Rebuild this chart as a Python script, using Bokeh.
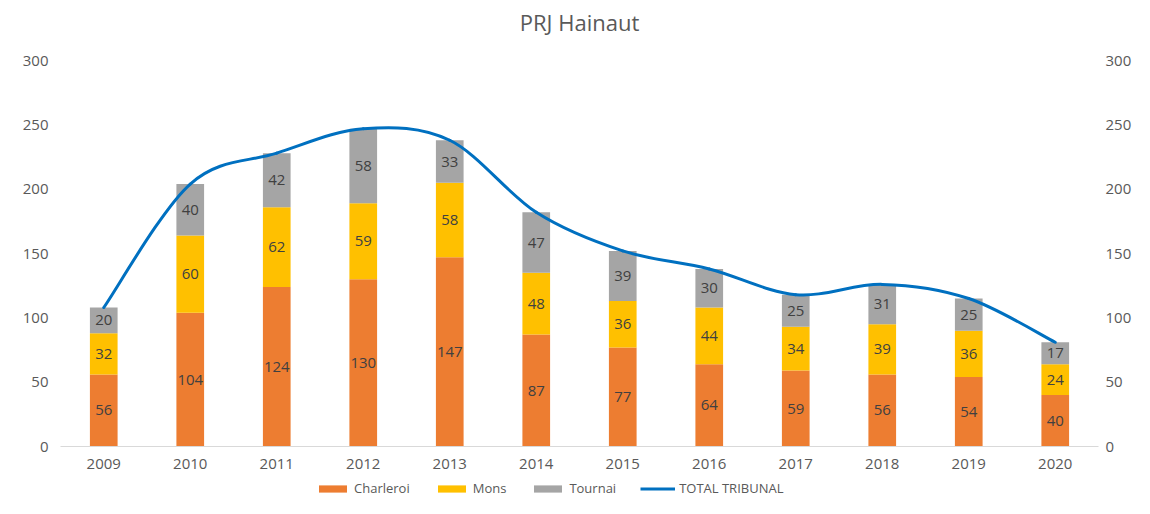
import numpy as np
from bokeh.plotting import figure
from bokeh.layouts import column
from bokeh.models import (ColumnDataSource, Range1d, LinearAxis, FixedTicker,
                          Legend, LegendItem)
from bokeh.core.properties import value
from bokeh.embed import file_html
from bokeh.resources import INLINE

years = ["2009", "2010", "2011", "2012", "2013", "2014", "2015", "2016",
         "2017", "2018", "2019", "2020"]
charleroi = [56, 104, 124, 130, 147, 87, 77, 64, 59, 56, 54, 40]
mons = [32, 60, 62, 59, 58, 48, 36, 44, 34, 39, 36, 24]
tournai = [20, 40, 42, 58, 33, 47, 39, 30, 25, 31, 25, 17]
y_ticks = [0, 50, 100, 150, 200, 250, 300]
series_names = ["Charleroi", "Mons", "Tournai", "TOTAL TRIBUNAL"]
chart_title = "PRJ Hainaut"

FONT = "Open Sans"
TXT = "#595959"
C_CHA = "#ED7D31"
C_MON = "#FFC000"
C_TOU = "#A5A5A5"
C_TOT = "#0070C0"
W = 1134
TITLE_H, MAIN_H, LEG_H = 44, 436, 18


def bare(fig):
    fig.outline_line_color = None
    fig.xgrid.visible = False
    fig.ygrid.visible = False
    fig.background_fill_color = "white"
    fig.border_fill_color = "white"
    return fig


# ---- title strip (frame is aligned with the main chart's frame) ----
pt = bare(figure(width=W, height=TITLE_H, output_backend="svg",
                 toolbar_location=None, x_range=Range1d(0, 1),
                 y_range=Range1d(0, TITLE_H), x_axis_type=None,
                 y_axis_type=None, min_border=0))
pt.text(x=[0.5], y=[TITLE_H - 21], text=[chart_title], text_align="center",
        text_baseline="middle", text_font=value(FONT), text_font_size="22px",
        text_color=TXT)

# ---- main chart ----
xs = np.arange(len(years), dtype=float)
cha = np.array(charleroi, dtype=float)
mon = np.array(mons, dtype=float)
tou = np.array(tournai, dtype=float)
total = cha + mon + tou

src = ColumnDataSource(dict(
    x=xs, charleroi=cha, mons=mon, tournai=tou,
    y_cha=cha / 2, y_mon=cha + mon / 2, y_tou=cha + mon + tou / 2,
    l_cha=[str(v) for v in charleroi], l_mon=[str(v) for v in mons],
    l_tou=[str(v) for v in tournai],
))

p = bare(figure(width=W, height=MAIN_H, output_backend="svg",
                toolbar_location=None, x_range=Range1d(-0.5, 11.5),
                y_range=Range1d(0, 300), min_border_left=60,
                min_border_right=34, min_border_top=16, min_border_bottom=34))

p.extra_y_ranges = {"right": Range1d(0, 300)}
right_axis = LinearAxis(y_range_name="right")
p.add_layout(right_axis, "right")
for ax, so in ((p.yaxis[0], 12), (right_axis, 7)):
    ax.ticker = FixedTicker(ticks=y_ticks)
    ax.axis_line_color = None
    ax.major_tick_line_color = None
    ax.minor_tick_line_color = None
    ax.major_tick_out = 0
    ax.major_tick_in = 0
    ax.major_label_text_font = FONT
    ax.major_label_text_font_size = "15px"
    ax.major_label_text_color = TXT
    ax.major_label_standoff = so

xa = p.xaxis[0]
xa.ticker = FixedTicker(ticks=list(range(len(years))))
xa.major_label_overrides = {i: y for i, y in enumerate(years)}
xa.axis_line_color = "#D9D9D9"
xa.axis_line_width = 1
xa.major_tick_line_color = None
xa.minor_tick_line_color = None
xa.major_tick_out = 0
xa.major_tick_in = 0
xa.major_label_text_font = FONT
xa.major_label_text_font_size = "15px"
xa.major_label_text_color = TXT
xa.major_label_standoff = 12

p.vbar_stack(["charleroi", "mons", "tournai"], x="x", width=0.32,
             fill_color=[C_CHA, C_MON, C_TOU], line_color=None, source=src)

for ycol, lcol in (("y_cha", "l_cha"), ("y_mon", "l_mon"), ("y_tou", "l_tou")):
    p.text(x="x", y=ycol, text=lcol, source=src, text_align="center",
           text_baseline="middle", text_font=value(FONT),
           text_font_size="15px", text_color="#404040")

# smoothed total line (Catmull-Rom -> cubic Bezier segments)
n = len(total)
x0, y0, x1, y1, cx0, cy0, cx1, cy1 = ([] for _ in range(8))
for i in range(n - 1):
    pa = max(i - 1, 0)
    pb = min(i + 2, n - 1)
    x0.append(xs[i]); y0.append(total[i])
    x1.append(xs[i + 1]); y1.append(total[i + 1])
    cx0.append(xs[i] + (xs[i + 1] - xs[pa]) / 6)
    cy0.append(total[i] + (total[i + 1] - total[pa]) / 6)
    cx1.append(xs[i + 1] - (xs[pb] - xs[i]) / 6)
    cy1.append(total[i + 1] - (total[pb] - total[i]) / 6)
bsrc = ColumnDataSource(dict(x0=x0, y0=y0, x1=x1, y1=y1,
                             cx0=cx0, cy0=cy0, cx1=cx1, cy1=cy1))
p.bezier(x0="x0", y0="y0", x1="x1", y1="y1", cx0="cx0", cy0="cy0",
         cx1="cx1", cy1="cy1", source=bsrc, line_color=C_TOT,
         line_width=3, line_cap="round")

# ---- legend strip (proxy renderers lie outside the visible range) ----
pl = bare(figure(width=W, height=LEG_H, output_backend="svg",
                 toolbar_location=None, x_range=Range1d(0, 1),
                 y_range=Range1d(0, 1), x_axis_type=None, y_axis_type=None,
                 min_border=0))
r_cha = pl.vbar(x=[-9], top=[-9], width=0.1, fill_color=C_CHA, line_color=None)
r_mon = pl.vbar(x=[-9], top=[-9], width=0.1, fill_color=C_MON, line_color=None)
r_tou = pl.vbar(x=[-9], top=[-9], width=0.1, fill_color=C_TOU, line_color=None)
r_tot = pl.line(x=[-9, -8], y=[-9, -9], line_color=C_TOT, line_width=3)
legend = Legend(items=[
    LegendItem(label=series_names[0], renderers=[r_cha]),
    LegendItem(label=series_names[1], renderers=[r_mon]),
    LegendItem(label=series_names[2], renderers=[r_tou]),
    LegendItem(label=series_names[3], renderers=[r_tot]),
], orientation="horizontal", location=(255, 1), padding=0, margin=0,
    spacing=24, glyph_width=35, glyph_height=9, label_height=14,
    label_standoff=4, label_text_font=FONT, label_text_font_size="13px",
    label_text_color=TXT, border_line_color=None, background_fill_alpha=0)
pl.add_layout(legend, "center")

layout = column(pt, p, pl, spacing=0)
open("out.html", "w").write(file_html(layout, INLINE))
